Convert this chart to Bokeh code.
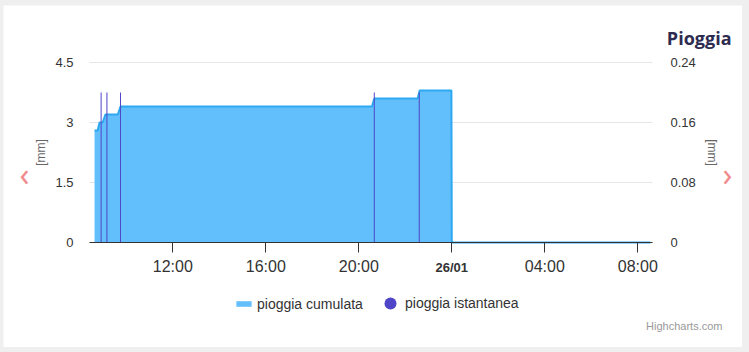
import math
import pandas as pd
from bokeh.plotting import figure
from bokeh.models import (Range1d, LinearAxis, DatetimeAxis, FixedTicker, CustomJSTickFormatter,
                          Legend, LegendItem, Label)
from bokeh.layouts import column
from bokeh.embed import file_html
from bokeh.resources import INLINE

# ---------------- data ----------------
cum_times = ["2024-01-25 08:38", "2024-01-25 08:46", "2024-01-25 08:51", "2024-01-25 08:59",
             "2024-01-25 09:06", "2024-01-25 09:38", "2024-01-25 09:45", "2024-01-25 20:34",
             "2024-01-25 20:40", "2024-01-25 22:32", "2024-01-25 22:37", "2024-01-25 23:59",
             "2024-01-26 00:00", "2024-01-26 08:32"]
cum_values = [2.8, 2.8, 3.0, 3.0, 3.2, 3.2, 3.4, 3.4, 3.6, 3.6, 3.8, 3.8, 0.0, 0.0]

inst_times = ["2024-01-25 08:55", "2024-01-25 09:10", "2024-01-25 09:45",
              "2024-01-25 20:40", "2024-01-25 22:36"]
inst_values = [0.2, 0.2, 0.2, 0.2, 0.2]

x_tick_times = ["2024-01-25 12:00", "2024-01-25 16:00", "2024-01-25 20:00",
                "2024-01-26 00:00", "2024-01-26 04:00", "2024-01-26 08:00"]
x_tick_labels = ["12:00", "16:00", "20:00", "26/01", "04:00", "08:00"]
day_label_index = 3

left_ticks = [0, 1.5, 3, 4.5]
right_ticks = [0, 0.08, 0.16, 0.24]

x_start, x_end = "2024-01-25 08:25", "2024-01-26 08:38"
y_max_left, y_max_right = 4.5, 0.24

series_names = ["pioggia cumulata", "pioggia istantanea"]
title_text = "Pioggia"
axis_title = "[mm]"
credits_text = "Highcharts.com"
nav_prev, nav_next = "\u2039", "\u203a"

# ---------------- layout (pixels inside the 739x342 canvas) ----------------
FIG_W, FIG_H = 739, 342
PA_LEFT, PA_RIGHT, PA_TOP, PA_BOTTOM = 86, 649, 57, 237   # plot area box
PA_W, PA_H = PA_RIGHT - PA_LEFT, PA_BOTTOM - PA_TOP


def ms(t):
    return pd.Timestamp(t).timestamp() * 1000.0


X0, X1 = ms(x_start), ms(x_end)
MPP = (X1 - X0) / PA_W                       # ms per pixel
LPP = y_max_left / PA_H                      # left units per pixel
RPP = y_max_right / PA_H                     # right units per pixel
BELOW, ABOVE = FIG_H - PA_BOTTOM, PA_TOP     # px below / above the plot area

cum_x = pd.to_datetime(cum_times)
inst_x = pd.to_datetime(inst_times)
tick_ms = [ms(t) for t in x_tick_times]
axis_labels = ["" if i == day_label_index else s for i, s in enumerate(x_tick_labels)]

FONT = "Liberation Sans"
TXT = "#333333"
BLUE_FILL = "#62bffc"
BLUE_LINE = "#2ea8f0"
PURPLE = "#4f45c8"
PINK = "#f08c8c"

# the frame covers the whole canvas; axes are drawn at fixed data locations
p = figure(width=FIG_W, height=FIG_H, x_axis_type=None, y_axis_type=None,
           x_range=Range1d(X0 - PA_LEFT * MPP, X1 + (FIG_W - PA_RIGHT) * MPP),
           y_range=Range1d(-BELOW * LPP, y_max_left + ABOVE * LPP),
           output_backend="svg", toolbar_location=None, min_border=0,
           outline_line_color=None, background_fill_color="white", border_fill_color="white",
           margin=(5, 7, 5, 3))
p.extra_y_ranges = {"inst": Range1d(-BELOW * RPP, y_max_right + ABOVE * RPP)}
p.grid.visible = False

# horizontal grid lines across the plot area only
p.segment(x0=[X0] * len(left_ticks), x1=[X1] * len(left_ticks), y0=left_ticks, y1=left_ticks,
          line_color="#e6e6e6", line_width=1)

# cumulative area
area_r = p.varea(x=cum_x, y1=0, y2=cum_values, fill_color=BLUE_FILL, fill_alpha=1.0)
p.line(x=cum_x, y=cum_values, line_color=BLUE_LINE, line_width=2)

# instantaneous columns (thin)
p.segment(x0=inst_x, y0=[0] * len(inst_values), x1=inst_x, y1=inst_values,
          y_range_name="inst", line_color=PURPLE, line_width=1)
dot_r = p.scatter(x=inst_x, y=inst_values, y_range_name="inst", marker="circle", size=0,
                  fill_color=PURPLE, line_color=None)

num_code = "return String(Math.round(tick*1000)/1000);"

# x axis
xa = DatetimeAxis(fixed_location=0, bounds=(X0, X1), ticker=FixedTicker(ticks=tick_ms),
                  formatter=CustomJSTickFormatter(args=dict(tvals=tick_ms, tlabels=axis_labels),
                                                  code="const i = tvals.indexOf(tick); return i >= 0 ? tlabels[i] : '';"))
xa.axis_line_color = "#333333"
xa.major_tick_line_color = "#333333"
xa.major_tick_out = 10
xa.major_tick_in = 0
xa.minor_tick_line_color = None
xa.major_label_standoff = 5
xa.major_label_text_font = FONT
xa.major_label_text_font_size = "16px"
xa.major_label_text_color = TXT
p.add_layout(xa, "below")

# bold day-change label, same placement rules as the other time labels
xd = DatetimeAxis(fixed_location=0, bounds=(X0, X1),
                  ticker=FixedTicker(ticks=[tick_ms[day_label_index]]),
                  formatter=CustomJSTickFormatter(args=dict(txt=x_tick_labels[day_label_index]),
                                                  code="return txt;"))
xd.axis_line_color = None
xd.major_tick_line_color = None
xd.minor_tick_line_color = None
xd.major_tick_out = 10
xd.major_tick_in = 0
xd.major_label_standoff = 7
xd.major_label_text_font = FONT
xd.major_label_text_font_size = "13px"
xd.major_label_text_font_style = "bold"
xd.major_label_text_color = TXT
p.add_layout(xd, "below")

# left axis
ya = LinearAxis(fixed_location=X0, bounds=(0, y_max_left), ticker=FixedTicker(ticks=left_ticks),
                formatter=CustomJSTickFormatter(code=num_code))
# right axis
ra = LinearAxis(fixed_location=X1, bounds=(0, y_max_right), y_range_name="inst",
                ticker=FixedTicker(ticks=right_ticks),
                formatter=CustomJSTickFormatter(code=num_code))
for ax, so in ((ya, 16), (ra, 18)):
    ax.axis_line_color = None
    ax.major_tick_line_color = None
    ax.minor_tick_line_color = None
    ax.major_tick_out = 0
    ax.major_tick_in = 0
    ax.major_label_standoff = so
    ax.major_label_text_font = FONT
    ax.major_label_text_font_size = "13px"
    ax.major_label_text_color = TXT
p.add_layout(ya, "left")
p.add_layout(ra, "right")

# axis titles
p.add_layout(Label(x=37, y=195, x_units="screen", y_units="screen", text=axis_title,
                   angle=math.pi / 2, text_align="center", text_baseline="middle",
                   text_font=FONT, text_font_size="12px", text_color="#666666"))
p.add_layout(Label(x=708, y=195, x_units="screen", y_units="screen", text=axis_title,
                   angle=-math.pi / 2, text_align="center", text_baseline="middle",
                   text_font=FONT, text_font_size="12px", text_color="#666666"))

# title
p.add_layout(Label(x=728, y=310, x_units="screen", y_units="screen", text=title_text,
                   text_align="right", text_baseline="middle", text_font="Open Sans",
                   text_font_style="bold", text_font_size="18px", text_color="#2d2b50"))

# navigation chevrons
p.add_layout(Label(x=21, y=174, x_units="screen", y_units="screen", text=nav_prev,
                   text_align="center", text_baseline="middle", text_font="Noto Sans",
                   text_font_size="32px", text_color=PINK))
p.add_layout(Label(x=724, y=174, x_units="screen", y_units="screen", text=nav_next,
                   text_align="center", text_baseline="middle", text_font="Noto Sans",
                   text_font_size="32px", text_color=PINK))

# credits
p.add_layout(Label(x=719, y=22, x_units="screen", y_units="screen", text=credits_text,
                   text_align="right", text_baseline="middle", text_font=FONT,
                   text_font_size="11px", text_color="#999999"))

# legend
common = dict(orientation="horizontal", padding=0, margin=0, border_line_color=None,
              background_fill_alpha=0, label_text_font=FONT, label_text_font_size="14px",
              label_text_color=TXT, label_height=17)
p.add_layout(Legend(items=[LegendItem(label=series_names[0], renderers=[area_r])],
                    location=(231, 35), glyph_width=19, glyph_height=7,
                    label_standoff=4, **common))
p.add_layout(Legend(items=[LegendItem(label=series_names[1], renderers=[dot_r])],
                    location=(372, 29), glyph_width=30, glyph_height=30,
                    label_standoff=0, **common))

layout = column(p, styles={"background-color": "#efefef"})
open("out.html", "w").write(file_html(layout, INLINE))
